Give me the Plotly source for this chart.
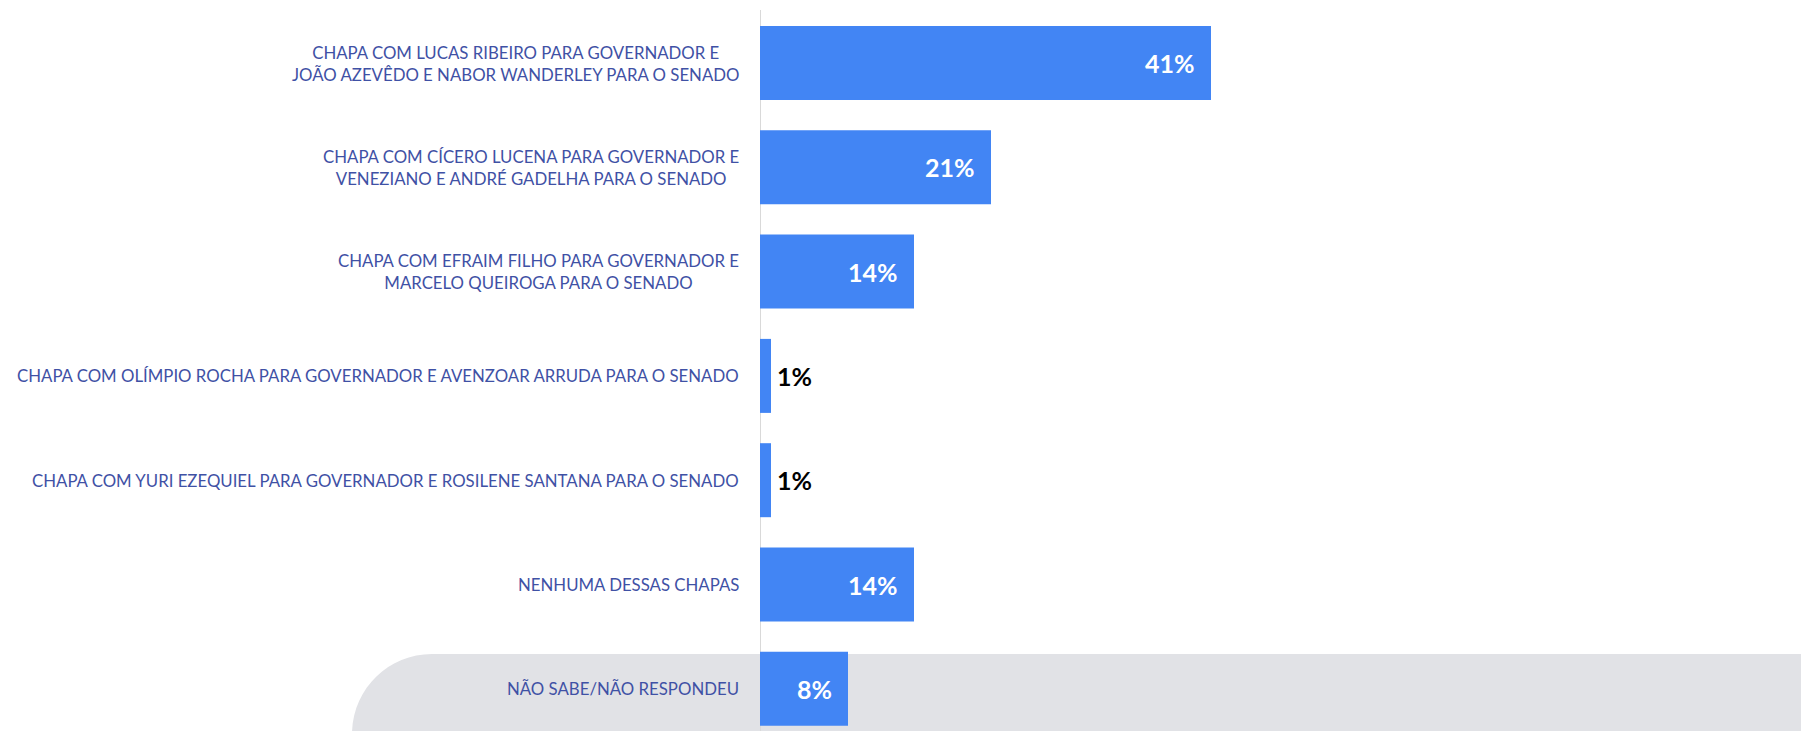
import plotly.graph_objects as go

categories = [
    "CHAPA COM LUCAS RIBEIRO PARA GOVERNADOR E<br>JOÃO AZEVÊDO E NABOR WANDERLEY PARA O SENADO",
    "CHAPA COM CÍCERO LUCENA PARA GOVERNADOR E<br>VENEZIANO E ANDRÉ GADELHA PARA O SENADO",
    "CHAPA COM EFRAIM FILHO PARA GOVERNADOR E<br>MARCELO QUEIROGA PARA O SENADO",
    "CHAPA COM OLÍMPIO ROCHA PARA GOVERNADOR E AVENZOAR ARRUDA PARA O SENADO",
    "CHAPA COM YURI EZEQUIEL PARA GOVERNADOR E ROSILENE SANTANA PARA O SENADO",
    "NENHUMA DESSAS CHAPAS",
    "NÃO SABE/NÃO RESPONDEU",
]
values = [41, 21, 14, 1, 1, 14, 8]
value_labels = ["41%", "21%", "14%", "1%", "1%", "14%", "8%"]

OFF = 8  # default page body margin
W, H = 1809 - OFF, 731 - OFF
L, T = 760 - OFF, 10 - OFF
plot_w = W - L
plot_h = H - T
px_per_unit = 11.0
cat_px = 104.3

BLUE = "#4285f4"
LABEL_COLOR = "#3f51a5"
GREY = "#e1e2e6"

ypos = list(range(len(categories)))

fig = go.Figure()
fig.add_trace(go.Bar(
    x=values, y=ypos, orientation="h",
    marker=dict(color=BLUE, line=dict(width=0)),
    width=74 / cat_px,
    hoverinfo="skip",
))

# category labels
for i, cat in enumerate(categories):
    fig.add_annotation(
        x=0, y=i, xref="x", yref="y", text=cat, showarrow=False,
        xanchor="right", yanchor="middle", align="center", xshift=-19,
        font=dict(family="Lato", size=16.8, color=LABEL_COLOR),
    )

# value labels
for i, (v, lab) in enumerate(zip(values, value_labels)):
    if v >= 5:
        fig.add_annotation(
            x=v, y=i, xref="x", yref="y", text="<b>%s</b>" % lab, showarrow=False,
            xanchor="right", yanchor="middle", xshift=-14,
            font=dict(family="Lato", size=25, color="white"),
        )
    else:
        fig.add_annotation(
            x=v, y=i, xref="x", yref="y", text="<b>%s</b>" % lab, showarrow=False,
            xanchor="left", yanchor="middle", xshift=4,
            font=dict(family="Lato", size=25, color="black"),
        )

# grey rounded background panel at the bottom (page pixel coords -> paper)
def px2paper_x(px):
    return (px - OFF - L) / plot_w

def px2paper_y(py):
    return (H - (py - OFF)) / plot_h

x0, ytop, r = 352, 654, 80
xr = 1809 + 5
ybot = 731 + 10
k = 0.5523
path = (
    f"M {px2paper_x(x0)},{px2paper_y(ybot)} "
    f"L {px2paper_x(x0)},{px2paper_y(ytop + r)} "
    f"C {px2paper_x(x0)},{px2paper_y(ytop + r - k * r)} "
    f"{px2paper_x(x0 + r - k * r)},{px2paper_y(ytop)} "
    f"{px2paper_x(x0 + r)},{px2paper_y(ytop)} "
    f"L {px2paper_x(xr)},{px2paper_y(ytop)} "
    f"L {px2paper_x(xr)},{px2paper_y(ybot)} Z"
)
fig.add_shape(type="path", path=path, xref="paper", yref="paper",
              fillcolor=GREY, line=dict(width=0), layer="below")
fig.add_shape(type="line", x0=0, x1=0, y0=0, y1=1, xref="x", yref="paper",
              line=dict(color="#d9d9d9", width=2), layer="below")

span = plot_h / cat_px
r0 = -(63 - 10) / cat_px
fig.update_layout(
    width=W, height=H,
    margin=dict(l=L, r=0, t=T, b=0, pad=0),
    paper_bgcolor="white", plot_bgcolor="rgba(0,0,0,0)",
    showlegend=False,
    xaxis=dict(range=[0, plot_w / px_per_unit], visible=False, fixedrange=True),
    yaxis=dict(range=[r0 + span, r0], visible=False, fixedrange=True),
)

fig.write_html("out.html", config={"displayModeBar": False})
